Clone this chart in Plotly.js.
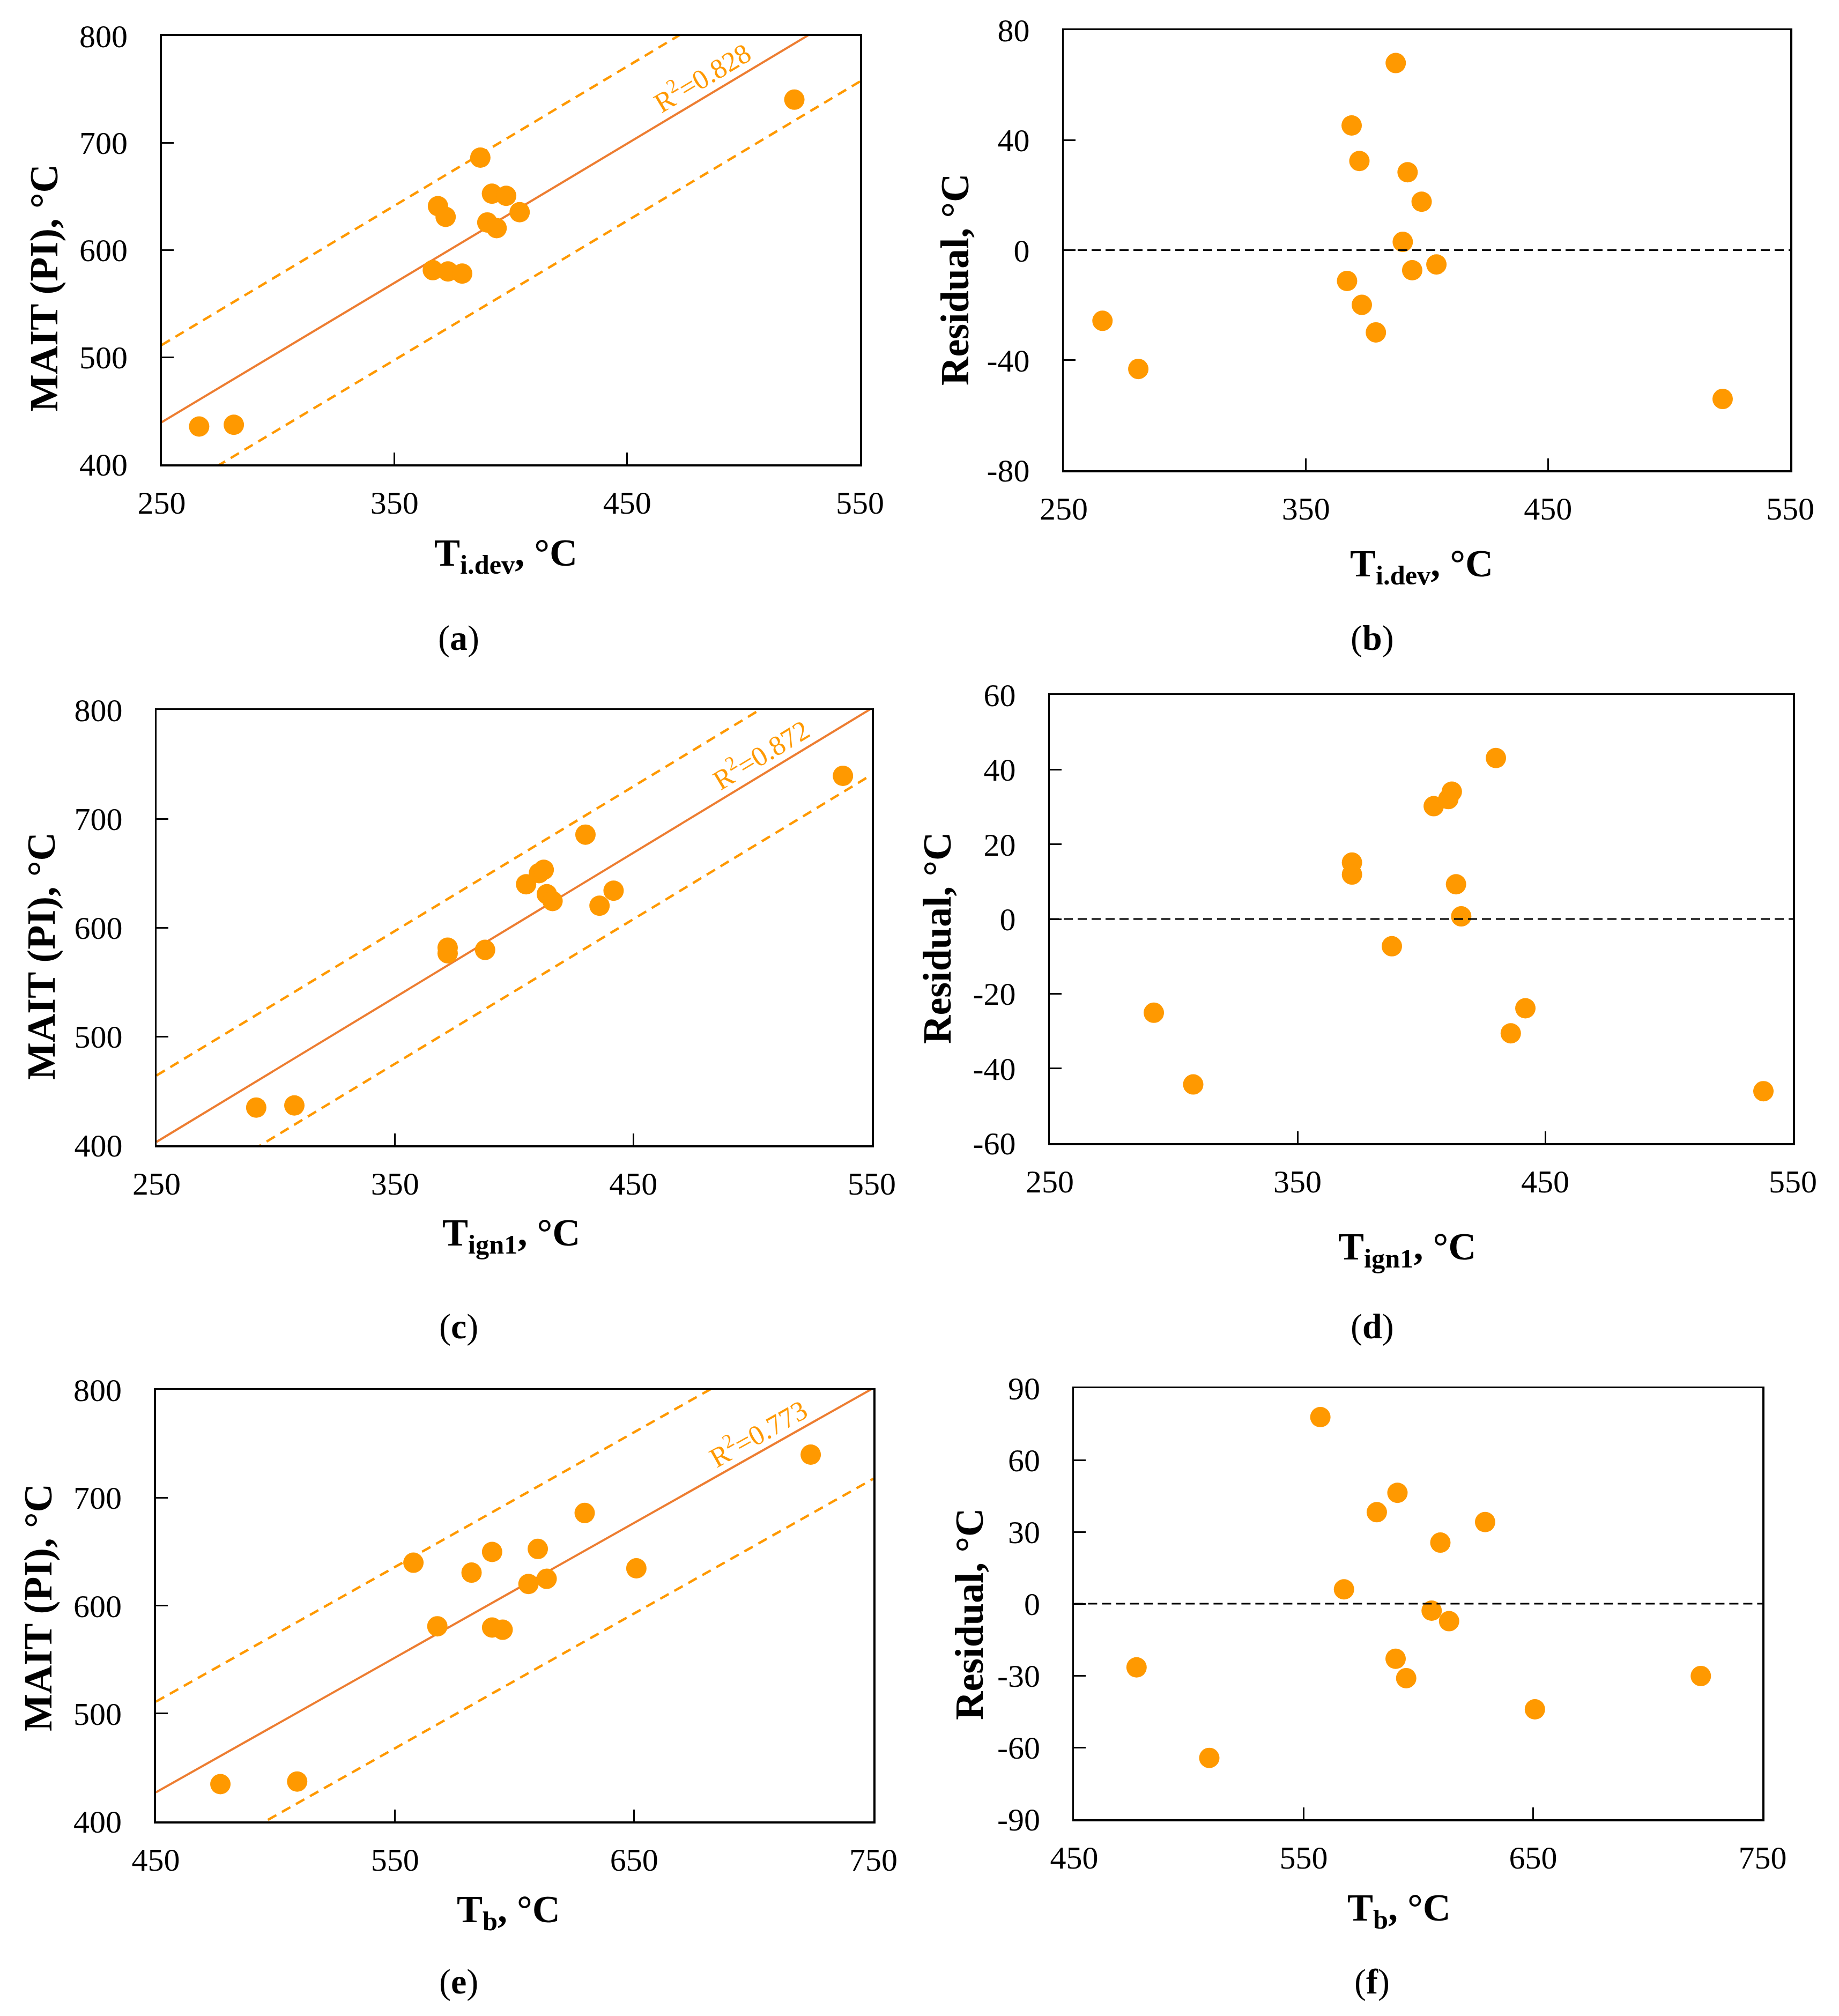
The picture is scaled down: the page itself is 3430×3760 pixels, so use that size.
<!DOCTYPE html>
<html>
<head>
<meta charset="utf-8">
<script src="https://cdn.plot.ly/plotly-3.0.1.min.js"></script>
<style>html,body{margin:0;padding:0;background:#fff;}#chart{width:3430px;height:3760px;}</style>
</head>
<body>
<div id="chart"></div>
<script>
// ---------- data ----------
// (a) MAIT vs T_i.dev
var xA = [266.1, 281.0, 386.9, 391.9, 398.0, 368.7, 372.0, 389.9, 393.9, 403.8, 366.5, 373.0, 379.1, 521.8];
var yA = [435.3, 436.9, 686.2, 652.5, 650.5, 640.9, 630.9, 625.7, 620.4, 635.3, 581.2, 580.0, 578.0, 740.3];
// (b) residual vs T_i.dev
var xB = [266.0, 280.8, 387.1, 368.9, 372.1, 392.0, 397.8, 390.0, 393.9, 403.9, 367.0, 373.1, 378.9, 522.1];
var rB = [-25.7, -43.2, 68.0, 45.3, 32.4, 28.3, 17.6, 3.0, -7.3, -5.2, -11.2, -19.9, -29.9, -54.1];
// (c) MAIT vs T_ign1
var xC = [291.8, 307.8, 372.1, 372.1, 387.8, 405.0, 410.4, 412.4, 413.7, 416.1, 429.9, 435.8, 441.7, 537.9];
var yC = [434.6, 436.6, 581.5, 576.4, 579.5, 639.8, 650.0, 653.1, 630.7, 624.4, 685.4, 620.1, 633.9, 739.4];
// (d) residual vs T_ign1
var xD = [292.0, 307.9, 372.0, 372.0, 388.1, 405.0, 410.9, 412.3, 414.0, 416.1, 430.1, 436.1, 442.0, 538.1];
var rD = [-25.1, -44.3, 15.1, 11.9, -7.3, 30.2, 32.1, 34.1, 9.3, 0.7, 43.1, -30.6, -23.9, -46.1];
// (e) MAIT vs T_b
var xE = [477.0, 509.1, 557.7, 567.7, 582.0, 590.6, 590.6, 595.0, 605.8, 609.7, 613.4, 629.3, 650.9, 723.8];
var yE = [434.5, 436.9, 639.7, 580.8, 630.5, 649.7, 579.6, 577.6, 620.0, 652.5, 624.8, 685.8, 634.5, 739.9];
// (f) residual vs T_b
var xF = [477.2, 508.9, 557.3, 567.6, 581.9, 590.9, 590.1, 594.7, 605.8, 609.6, 613.4, 629.1, 650.8, 723.1];
var rF = [-26.6, -64.4, 77.9, 6.0, 38.2, 46.3, -23.0, -31.1, -2.9, 25.5, -7.3, 34.1, -44.1, -30.2];

// fitted lines (a), (c), (e): y = intercept + slope * x, prediction band +/- half width
var fitSlope = [1.300, 1.328, 1.249];
var fitIntercept = [114.3, 71.1, -135.2];
var bandHalfWidth = [72, 61, 84];
var r2Values = ['0.828', '0.872', '0.773'];

// tick labels
var xTicksLow = [250, 350, 450, 550];
var xTicksHigh = [450, 550, 650, 750];
var yTicksMAIT = [400, 500, 600, 700, 800];
var yTicksResB = [-80, -40, 0, 40, 80];
var yTicksResD = [-60, -40, -20, 0, 20, 40, 60];
var yTicksResF = [-90, -60, -30, 0, 30, 60, 90];

var panelLetters = ['a', 'b', 'c', 'd', 'e', 'f'];
var xTitleSubs = ['i.dev', 'ign1', 'b'];

// ---------- layout helpers ----------
var W = 3430, H = 3760;
function px(v) { return v / W; }
function py(v) { return 1 - v / H; }
var FONT = 'Liberation Serif';
var ORANGE = '#FF9900';
var FITCOL = '#ED7D31';

// plot boxes in pixels: [left, right, top, bottom]
var boxes = [
  [301.5, 1604, 66.5, 866],
  [1984, 3339, 56, 877],
  [292, 1626, 1324, 2136],
  [1958, 3344, 1296, 2132],
  [290.6, 1629, 2592, 3397],
  [2003.4, 3287.4, 2589, 3393]
];
var xRanges = [[250, 550], [250, 550], [250, 550], [250, 550], [450, 750], [450, 750]];
var yRanges = [[400, 800], [-80, 80], [400, 800], [-60, 60], [400, 800], [-90, 90]];
var xTickSets = [xTicksLow, xTicksLow, xTicksLow, xTicksLow, xTicksHigh, xTicksHigh];
var yTickSets = [yTicksMAIT, yTicksResB, yTicksMAIT, yTicksResD, yTicksMAIT, yTicksResF];

function axis(domain, range, ticks, isX) {
  return {
    domain: domain, range: range, autorange: false,
    tickmode: 'array', tickvals: ticks, ticktext: ticks.map(String),
    ticks: 'inside', ticklen: 22, tickwidth: 3, tickcolor: '#000',
    showline: true, linecolor: '#000', linewidth: 3.5, mirror: true,
    showgrid: false, zeroline: false, fixedrange: true,
    tickfont: { family: FONT, size: 60, color: '#000' },
    ticklabelstandoff: isX ? 16 : 48
  };
}

var layout = {
  width: W, height: H,
  margin: { l: 0, r: 0, t: 0, b: 0 },
  paper_bgcolor: '#fff', plot_bgcolor: '#fff',
  showlegend: false,
  annotations: [], shapes: []
};

for (var i = 0; i < 6; i++) {
  var b = boxes[i];
  var xn = 'xaxis' + (i === 0 ? '' : i + 1);
  var yn = 'yaxis' + (i === 0 ? '' : i + 1);
  var xa = axis([px(b[0]), px(b[1])], xRanges[i], xTickSets[i], true);
  var ya = axis([py(b[3]), py(b[2])], yRanges[i], yTickSets[i], false);
  xa.anchor = 'y' + (i === 0 ? '' : i + 1);
  ya.anchor = 'x' + (i === 0 ? '' : i + 1);
  layout[xn] = xa;
  layout[yn] = ya;
}

var traces = [];
var mainX = [xA, xC, xE], mainY = [yA, yC, yE];
var resX = [xB, xD, xF], resY = [rB, rD, rF];

for (var k = 0; k < 3; k++) {
  var xi = 'x' + (2 * k === 0 ? '' : 2 * k + 1);
  var yi = 'y' + (2 * k === 0 ? '' : 2 * k + 1);
  var xr = xRanges[2 * k];
  var lineX = [xr[0], xr[1]];
  var fitY = lineX.map(function (v) { return fitIntercept[k] + fitSlope[k] * v; });
  var upY = fitY.map(function (v) { return v + bandHalfWidth[k]; });
  var loY = fitY.map(function (v) { return v - bandHalfWidth[k]; });
  traces.push({ x: lineX, y: upY, xaxis: xi, yaxis: yi, mode: 'lines', line: { color: ORANGE, width: 4.5, dash: '18px,12px' }, hoverinfo: 'skip' });
  traces.push({ x: lineX, y: loY, xaxis: xi, yaxis: yi, mode: 'lines', line: { color: ORANGE, width: 4.5, dash: '18px,12px' }, hoverinfo: 'skip' });
  traces.push({ x: lineX, y: fitY, xaxis: xi, yaxis: yi, mode: 'lines', line: { color: FITCOL, width: 4 }, hoverinfo: 'skip' });
  traces.push({ x: mainX[k], y: mainY[k], xaxis: xi, yaxis: yi, mode: 'markers', marker: { color: ORANGE, size: 38 } });

  var xj = 'x' + (2 * k + 2), yj = 'y' + (2 * k + 2);
  traces.push({ x: resX[k], y: resY[k], xaxis: xj, yaxis: yj, mode: 'markers', marker: { color: ORANGE, size: 38 } });
  layout.shapes.push({ type: 'line', xref: xj + ' domain', yref: yj, x0: 0, x1: 1, y0: 0, y1: 0, line: { color: '#000', width: 3, dash: '17px,9px' } });
}

// R^2 labels
var r2Pos = [[1308, 143, -31], [1417, 1405, -31.3], [1412, 2671, -29.4]];
for (var k = 0; k < 3; k++) {
  layout.annotations.push({ xref: 'paper', yref: 'paper', x: px(r2Pos[k][0]), y: py(r2Pos[k][1]), xanchor: 'center', yanchor: 'middle',
    text: 'R<sup>2</sup>=' + r2Values[k], showarrow: false, textangle: r2Pos[k][2], font: { family: FONT, size: 52, color: ORANGE } });
}

// axis titles
var xTitlePos = [[943, 1036], [2651, 1056], [953, 2304], [2624, 2330], [948, 3566], [2609, 3563]];
var yTitlePos = [[82, 537], [1781, 521], [77, 1783], [1748, 1749], [71, 2998], [1808, 3010]];
for (var i = 0; i < 6; i++) {
  var sub = xTitleSubs[Math.floor(i / 2)];
  layout.annotations.push({ xref: 'paper', yref: 'paper', x: px(xTitlePos[i][0]), y: py(xTitlePos[i][1]), xanchor: 'center', yanchor: 'middle',
    text: '<b>T<sub>' + sub + '</sub>, °C</b>', showarrow: false, font: { family: FONT, size: 72, color: '#000' } });
  layout.annotations.push({ xref: 'paper', yref: 'paper', x: px(yTitlePos[i][0]), y: py(yTitlePos[i][1]), xanchor: 'center', yanchor: 'middle',
    text: i % 2 === 0 ? '<b>MAIT (PI), °C</b>' : '<b>Residual, °C</b>', textangle: -90, showarrow: false, font: { family: FONT, size: 74, color: '#000' } });
}

// panel letters
var letterPos = [[855, 1190], [2559, 1190], [855, 2474], [2559, 2474], [855, 3696], [2559, 3696]];
for (var i = 0; i < 6; i++) {
  layout.annotations.push({ xref: 'paper', yref: 'paper', x: px(letterPos[i][0]), y: py(letterPos[i][1]), xanchor: 'center', yanchor: 'middle',
    text: '(<b>' + panelLetters[i] + '</b>)', showarrow: false, font: { family: FONT, size: 66, color: '#000' } });
}

Plotly.newPlot('chart', traces, layout, { staticPlot: true, displayModeBar: false });
</script>
</body>
</html>
